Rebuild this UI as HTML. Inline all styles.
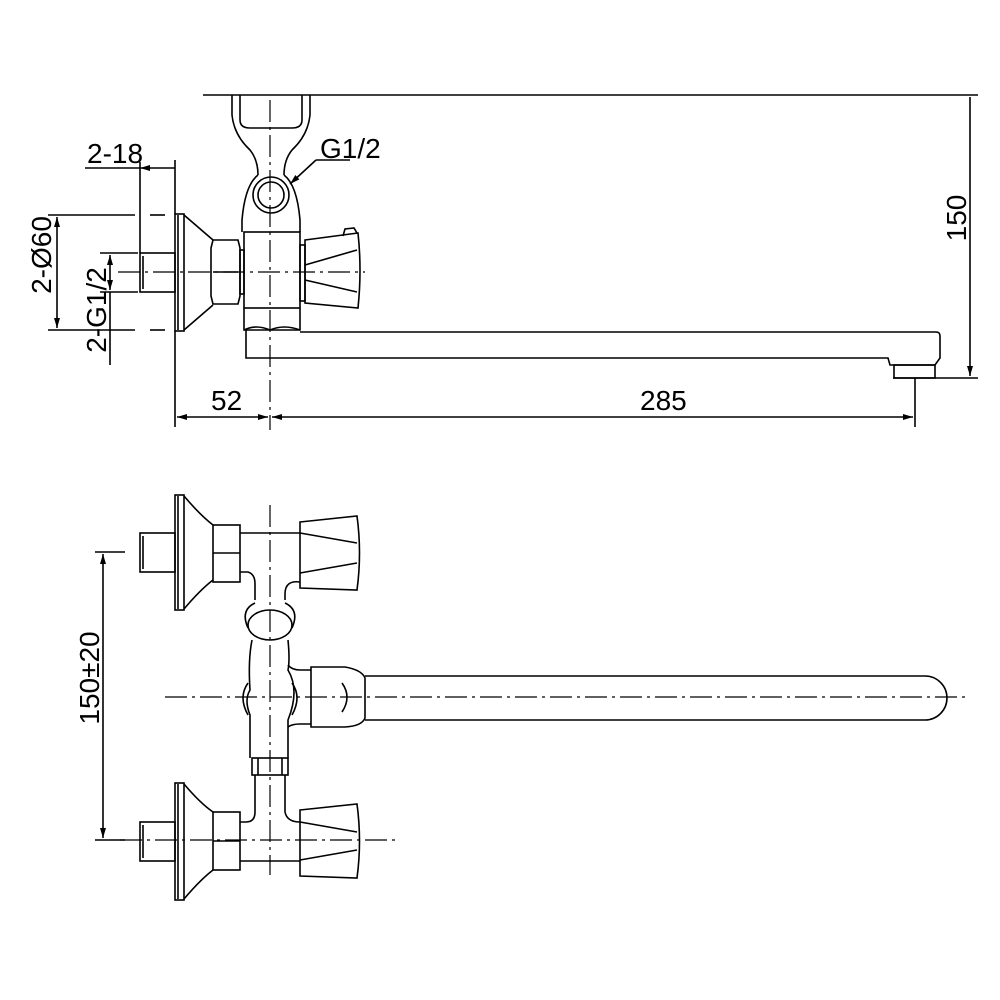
<!DOCTYPE html>
<html><head><meta charset="utf-8"><style>
html,body{margin:0;padding:0;background:#fff}
svg{display:block}
text{font-family:"Liberation Sans",sans-serif;font-size:28px;fill:#000}
</style></head><body>
<svg width="1000" height="1000" viewBox="0 0 1000 1000" xmlns="http://www.w3.org/2000/svg">
<defs>
<marker id="a" viewBox="0 0 10 6" refX="10" refY="3" markerWidth="12" markerHeight="6" orient="auto-start-reverse" markerUnits="userSpaceOnUse"><path d="M0,0 L10,3 L0,6 z" fill="#000"/></marker>
</defs>
<g fill="none" stroke="#000" stroke-width="1.6">
<line x1="203" y1="95" x2="978" y2="95"/>
<line x1="893" y1="378" x2="978" y2="378"/>
<line x1="970" y1="97" x2="970" y2="376" marker-end="url(#a)"/>
<path d="M232,95 L232,115 Q234,135 250,150 Q258,160 258,175"/>
<path d="M310,95 L310,115 Q308,135 292,150 Q284,160 284,175"/>
<path d="M240,95 L240,120 Q240,128 250,128 L292,128 Q302,128 302,120 L302,95"/>
<circle cx="271" cy="195" r="18"/>
<circle cx="271" cy="195" r="13"/>
<path d="M242,232 L242,220 Q245,185 258,175 M284,175 Q297,185 300,220 L300,232"/>
<line x1="350" y1="160" x2="316" y2="160"/>
<line x1="316" y1="160" x2="290" y2="184" marker-end="url(#a)"/>
<rect x="175" y="214" width="9" height="117"/>
<line x1="178" y1="215" x2="178" y2="330"/>
<path d="M184,215 L213,240 M184,330 L213,305"/>
<rect x="140" y="253" width="35" height="39"/>
<line x1="143" y1="256" x2="143" y2="289"/>
<path d="M213,240 L238,240 L240,248 L240,296 L238,304 L213,304 L211,296 L211,248 Z"/>
<line x1="213" y1="272" x2="238" y2="272"/>
<rect x="240" y="250" width="4" height="44"/>
<rect x="244" y="232" width="56" height="76"/>
<path d="M244,308 L244,330 L300,330 L300,308"/>
<path d="M244,330 Q256,324 270,330 Q284,324 300,330"/>
<rect x="300" y="245" width="5" height="56"/>
<path d="M305,240 L358,233 Q362,270 358,308 L305,303 Z"/>
<path d="M305,265 L357,250 M305,280 L357,292"/>
<path d="M343,236 L345,229 L354,228 L357,233"/>
<path d="M246,330 L246,358 L888,358 L890,365 L935,365 L940,358 L940,336 Q940,332 936,332 L300,332"/>
<rect x="894" y="365" width="41" height="13"/>
<line x1="175" y1="160" x2="175" y2="214"/>
<line x1="175" y1="331" x2="175" y2="427"/>
<line x1="915" y1="378" x2="915" y2="427"/>
<line x1="140" y1="162" x2="140" y2="253"/>
<line x1="85" y1="168" x2="140" y2="168"/>
<line x1="140" y1="168" x2="175" y2="168" marker-start="url(#a)"/>
<line x1="48" y1="215" x2="135" y2="215"/>
<line x1="150" y1="215" x2="165" y2="215"/>
<line x1="48" y1="330" x2="135" y2="330"/>
<line x1="150" y1="330" x2="165" y2="330"/>
<line x1="57" y1="217" x2="57" y2="328" marker-start="url(#a)" marker-end="url(#a)"/>
<line x1="100" y1="253" x2="138" y2="253"/>
<line x1="100" y1="292" x2="138" y2="292"/>
<line x1="110" y1="255" x2="110" y2="290" marker-start="url(#a)" marker-end="url(#a)"/>
<line x1="110" y1="292" x2="110" y2="365"/>
<line x1="177" y1="417" x2="268" y2="417" marker-start="url(#a)" marker-end="url(#a)"/>
<line x1="272" y1="417" x2="913" y2="417" marker-start="url(#a)" marker-end="url(#a)"/>
<rect x="175" y="495" width="9" height="115"/>
<line x1="178" y1="496" x2="178" y2="609"/>
<path d="M184,496 Q200,515 213,525 M184,609 Q200,590 213,580"/>
<rect x="140" y="533" width="35" height="39"/>
<line x1="143" y1="536" x2="143" y2="569"/>
<rect x="213" y="525" width="27" height="57"/>
<line x1="213" y1="553" x2="240" y2="553"/>
<line x1="240" y1="533" x2="300" y2="533"/>
<path d="M240,572 L248,572 Q255,574 255,584 L255,600"/>
<path d="M300,582 Q285,580 285,594 L285,600"/>
<path d="M300,522 L357,516 Q362,553 357,590 L300,588 Z"/>
<path d="M300,533 L357,543 M300,573 L357,563"/>
<ellipse cx="270" cy="625" rx="22" ry="15"/>
<path d="M255,603 Q240,610 248,628 M285,603 Q300,610 292,628"/>
<path d="M252,640 Q248,660 250,690 Q244,700 250,715 L250,758"/>
<path d="M288,640 Q290,660 288,670 Q300,690 288,720 L288,758"/>
<path d="M248,683 Q238,697 248,715 M292,683 Q302,697 292,715"/>
<path d="M288,665 Q292,670 300,670 L311,670 M288,727 Q292,724 300,724 L311,724"/>
<path d="M311,667 L345,667 Q362,670 365,678 L365,718 Q362,726 345,727 L311,727 Z"/>
<path d="M342,683 Q352,697 342,712"/>
<path d="M365,676 L925,676 A22,22 0 0 1 925,720 L365,720"/>
<rect x="252" y="758" width="36" height="17"/>
<line x1="258" y1="758" x2="258" y2="775"/>
<line x1="282" y1="758" x2="282" y2="775"/>
<path d="M255,775 L255,812 Q255,822 246,822 L240,822"/>
<path d="M285,775 L285,812 Q287,822 300,822"/>
<rect x="175" y="783" width="9" height="117"/>
<line x1="178" y1="784" x2="178" y2="899"/>
<path d="M184,784 Q200,803 213,812 M184,899 Q200,880 213,870"/>
<rect x="140" y="822" width="35" height="39"/>
<line x1="143" y1="825" x2="143" y2="858"/>
<rect x="213" y="812" width="27" height="58"/>
<line x1="213" y1="841" x2="240" y2="841"/>
<line x1="240" y1="861" x2="300" y2="861"/>
<path d="M300,810 L357,804 Q362,841 357,878 L300,876 Z"/>
<path d="M300,822 L357,832 M300,860 L357,850"/>
<line x1="95" y1="552" x2="125" y2="552"/>
<line x1="95" y1="840" x2="125" y2="840"/>
<line x1="103" y1="554" x2="103" y2="838" marker-start="url(#a)" marker-end="url(#a)"/>
</g>
<g fill="none" stroke="#000" stroke-width="1.2" stroke-dasharray="22,5,3,5">
<line x1="270" y1="100" x2="270" y2="430"/>
<line x1="118" y1="272" x2="365" y2="272"/>
<line x1="270" y1="505" x2="270" y2="875"/>
<line x1="165" y1="697" x2="965" y2="697"/>
<line x1="120" y1="840" x2="400" y2="840"/>
</g>
<text x="87" y="163">2-18</text>
<text x="320" y="158">G1/2</text>
<text x="211" y="410">52</text>
<text x="640" y="410">285</text>
<text transform="translate(966,218) rotate(-90)" text-anchor="middle">150</text>
<text transform="translate(51,255) rotate(-90)" text-anchor="middle">2-Ø60</text>
<text transform="translate(106,310) rotate(-90)" text-anchor="middle">2-G1/2</text>
<text transform="translate(99,678) rotate(-90)" text-anchor="middle">150±20</text>
</svg>
</body></html>
